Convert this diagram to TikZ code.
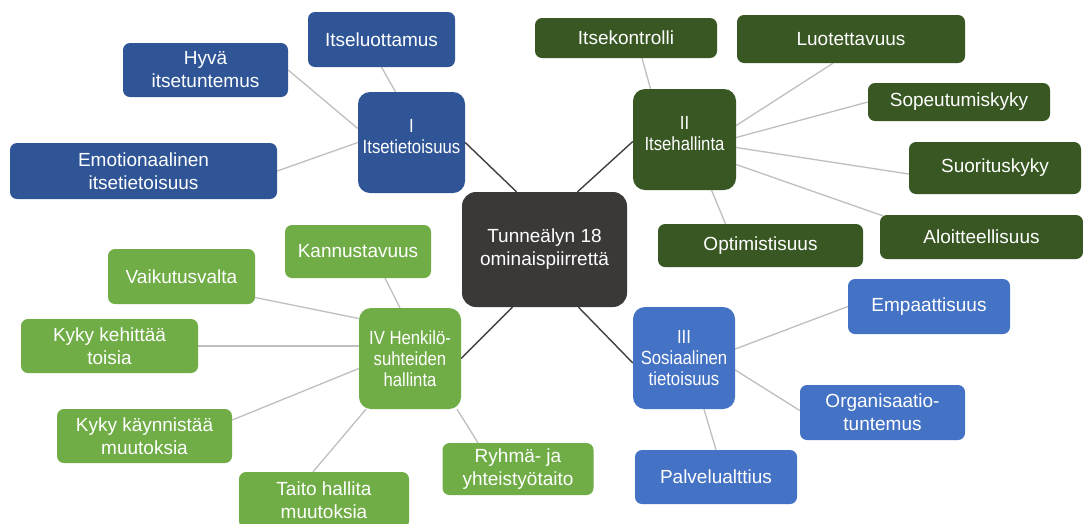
\documentclass[tikz,border=0pt]{standalone}
\usepackage{fontspec}
\setmainfont{Liberation Sans}
\newfontfamily\hubfont{Liberation Sans}[FakeStretch=0.88]
\usetikzlibrary{calc}
\pgfdeclarelayer{bg}
\pgfsetlayers{bg,main}
\definecolor{dblue}{HTML}{2F5597}
\definecolor{lblue}{HTML}{4472C4}
\definecolor{dgreen}{HTML}{385723}
\definecolor{lgreen}{HTML}{70AD47}
\definecolor{corefill}{HTML}{3B3838}
\definecolor{hubline}{HTML}{404040}
\definecolor{leafline}{HTML}{BFBFBF}
\begin{document}
\begin{tikzpicture}[x=1pt,y=-1pt,
  box/.style={rectangle, rounded corners=7pt, text=white, align=center, inner sep=0pt,
    font=\fontsize{19}{23}\selectfont},
  hub/.style={box, rounded corners=12pt, font=\hubfont\fontsize{19}{21}\selectfont},
  corebox/.style={box, rounded corners=14pt, fill=corefill},
  hubedge/.style={draw=hubline, line width=1.4pt},
  leafedge/.style={draw=leafline, line width=1.3pt},
]
\useasboundingbox (0,0) rectangle (1083,523);

% centre
\node[corebox, minimum width=165, minimum height=115] (c) at (544.5,249.5) {Tunneälyn 18\\ominaispiirrettä};

% I Itsetietoisuus
\node[hub, fill=dblue, minimum width=107, minimum height=101, text depth=12pt] (h1) at (411.5,142.5) {I\\Itsetietoisuus};
\node[box, fill=dblue, minimum width=147, minimum height=55] (lu) at (381.5,39.5) {Itseluottamus};
\node[box, fill=dblue, minimum width=165, minimum height=54] (hy) at (205.5,70) {Hyvä\\itsetuntemus};
\node[box, fill=dblue, minimum width=267, minimum height=56] (em) at (143.5,171) {Emotionaalinen\\itsetietoisuus};

% II Itsehallinta
\node[hub, fill=dgreen, minimum width=103, minimum height=101, text depth=12pt] (h2) at (684.5,139.5) {II\\Itsehallinta};
\node[box, fill=dgreen, minimum width=182, minimum height=40] (ik) at (626,38) {Itsekontrolli};
\node[box, fill=dgreen, minimum width=228, minimum height=48] (lt) at (851,39) {Luotettavuus};
\node[box, fill=dgreen, minimum width=182, minimum height=38] (sp) at (959,102) {Sopeutumiskyky};
\node[box, fill=dgreen, minimum width=172, minimum height=52] (su) at (995,168) {Suorituskyky};
\node[box, fill=dgreen, minimum width=203, minimum height=44] (al) at (981.5,237) {Aloitteellisuus};
\node[box, fill=dgreen, minimum width=205, minimum height=43] (op) at (760.5,245.5) {Optimistisuus};

% III Sosiaalinen tietoisuus
\node[hub, fill=lblue, minimum width=102, minimum height=102] (h3) at (684,358) {III\\Sosiaalinen\\tietoisuus};
\node[box, fill=lblue, minimum width=162, minimum height=55] (ea) at (929,306.5) {Empaattisuus};
\node[box, fill=lblue, minimum width=165, minimum height=55] (og) at (882.5,412.5) {Organisaatio-\\tuntemus};
\node[box, fill=lblue, minimum width=162, minimum height=54] (pa) at (716,477) {Palvelualttius};

% IV Henkilösuhteiden hallinta
\node[hub, fill=lgreen, minimum width=102, minimum height=101] (h4) at (410,358.5) {IV Henkilö-\\suhteiden\\hallinta};
\node[box, fill=lgreen, minimum width=146, minimum height=53] (ka) at (358,251.5) {Kannustavuus};
\node[box, fill=lgreen, minimum width=147, minimum height=55] (va) at (181.5,276.5) {Vaikutusvalta};
\node[box, fill=lgreen, minimum width=177, minimum height=54] (kk) at (109.5,346) {Kyky kehittää\\toisia};
\node[box, fill=lgreen, minimum width=175, minimum height=54] (kä) at (144.5,436) {Kyky käynnistää\\muutoksia};
\node[box, fill=lgreen, minimum width=170, minimum height=56] (ta) at (324,500) {Taito hallita\\muutoksia};
\node[box, fill=lgreen, minimum width=151, minimum height=52] (ry) at (518,469) {Ryhmä- ja\\yhteistyötaito};

\begin{pgfonlayer}{bg}
\fill[white] (0,0) rectangle (1083,523);
% hub connectors
\draw[hubedge] (h1.east) -- ([xshift=-28pt]c.north);
\draw[hubedge] ([yshift=-2pt]h2.west) -- ([xshift=33pt]c.north);
\draw[hubedge] ([yshift=-5pt]h3.west) -- ([xshift=34pt]c.south);
\draw[hubedge] (h4.east) -- ([xshift=-32pt]c.south);
% I
\draw[leafedge] (lu.south) -- ([xshift=-16pt]h1.north);
\draw[leafedge] (hy.east) -- ([yshift=14pt]h1.west);
\draw[leafedge] (em.east) -- (h1.west);
% II
\draw[leafedge] ([xshift=16pt]ik.south) -- ([xshift=-34pt]h2.north);
\draw[leafedge] ([xshift=-18pt]lt.south) -- ([yshift=14pt]h2.east);
\draw[leafedge] (sp.west) -- ([yshift=2pt]h2.east);
\draw[leafedge] ([yshift=-6pt]su.west) -- ([yshift=-8pt]h2.east);
\draw[leafedge] ([xshift=3pt,yshift=-1pt]al.north west) -- ([yshift=-25pt]h2.east);
\draw[leafedge] ([xshift=-35pt]op.north) -- ([xshift=27pt]h2.south);
% III
\draw[leafedge] (ea.west) -- ([yshift=9pt]h3.east);
\draw[leafedge] ([yshift=2pt]og.west) -- ([yshift=-12pt]h3.east);
\draw[leafedge] (pa.north) -- ([xshift=20pt]h3.south);
% IV
\draw[leafedge] ([xshift=27pt]ka.south) -- ([xshift=-10pt]h4.north);
\draw[leafedge] ([yshift=-21pt]va.east) -- ([yshift=40pt]h4.west);
\draw[leafedge] (kk.east) -- (kk.east -| h4.west);
\draw[leafedge] ([yshift=16pt]kä.east) -- ([yshift=-10pt]h4.west);
\draw[leafedge] ([xshift=-11pt]ta.north) -- ([xshift=-44pt]h4.south);
\draw[leafedge] ([xshift=-40pt]ry.north) -- ([xshift=47pt]h4.south);
\end{pgfonlayer}
\end{tikzpicture}
\end{document}
